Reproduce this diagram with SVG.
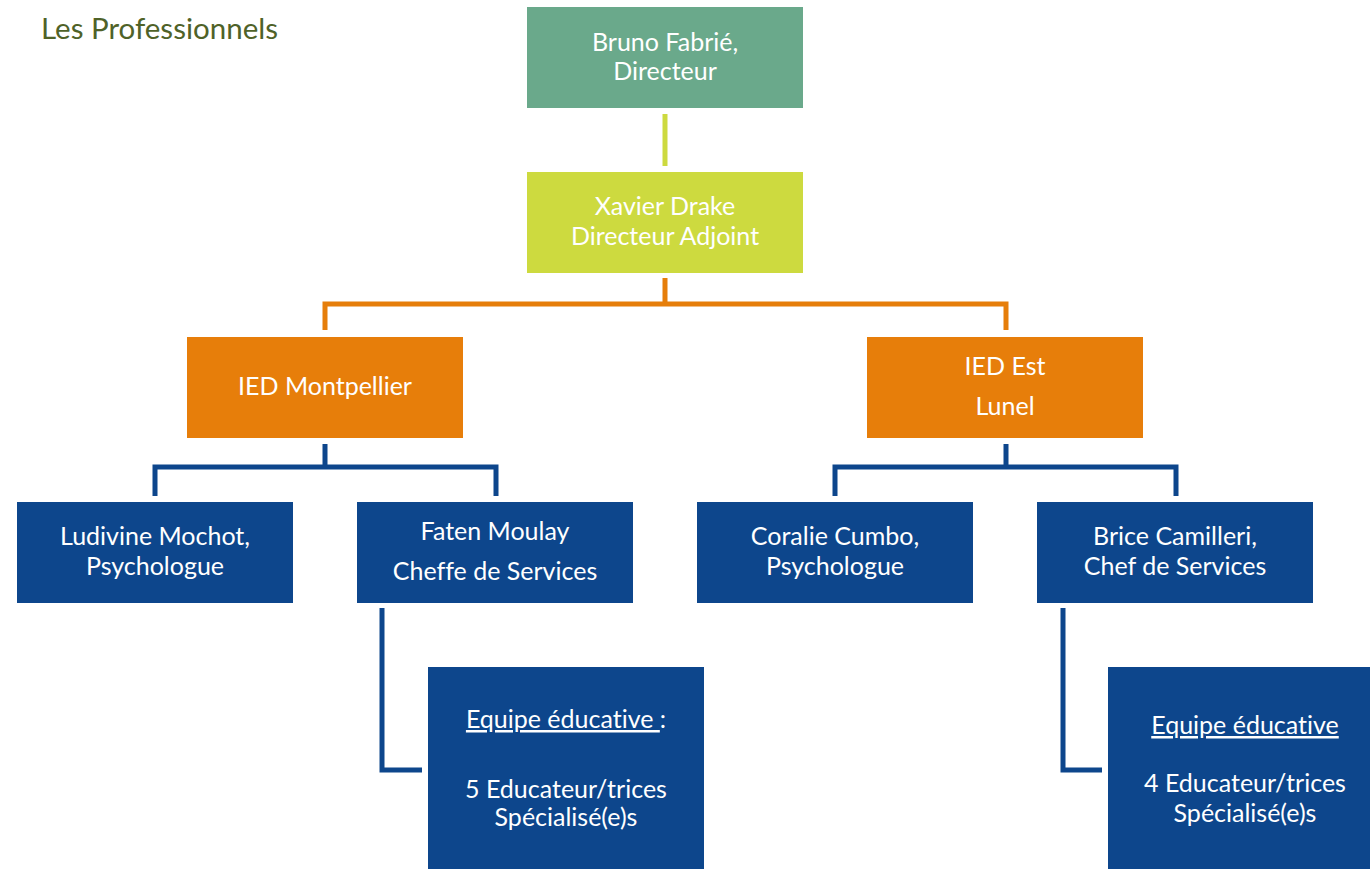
<svg xmlns="http://www.w3.org/2000/svg" width="1370" height="869" viewBox="0 0 1370 869">
<style>
text{font-family:Lato,"Open Sans","Liberation Sans",sans-serif;font-size:25px;fill:#fff;text-anchor:middle;font-variant-ligatures:none}
.title{fill:#4F6228;font-size:29.5px;text-anchor:start}
.c{fill:none;stroke-width:5;stroke-linejoin:miter;stroke-linecap:butt}
.g{fill:#6AA98B}.y{fill:#CDDA3F}.o{fill:#E77E0A}.b{fill:#0D468C}
.u{text-decoration:underline}
</style>
<rect width="1370" height="869" fill="#fff"/>
<text class="title" x="41" y="39">Les Professionnels</text>
<g id="connectors">
<path class="c" stroke="#CDDA3F" d="M665,114V166"/>
<path class="c" stroke="#E67E0A" d="M665,278V304M325,330V304H1006V330"/>
<path class="c" stroke="#0D468C" d="M325,444V467M155,496V467H496V496"/>
<path class="c" stroke="#0D468C" d="M1006,444V467M835,496V467H1176V496"/>
<path class="c" stroke="#0D468C" d="M382,608V770H422"/>
<path class="c" stroke="#0D468C" d="M1063,608V770H1102"/>
</g>
<g id="bruno"><rect class="g" x="527" y="7" width="276" height="101"/><text x="665" y="51">Bruno Fabrié,</text><text x="665" y="80">Directeur</text></g>
<g id="xavier"><rect class="y" x="527" y="172" width="276" height="101"/><text x="665" y="215">Xavier Drake</text><text x="665" y="245">Directeur Adjoint</text></g>
<g id="ied-montpellier"><rect class="o" x="187" y="337" width="276" height="101"/><text x="325" y="395">IED Montpellier</text></g>
<g id="ied-est"><rect class="o" x="867" y="337" width="276" height="101"/><text x="1005" y="375">IED Est</text><text x="1005" y="415">Lunel</text></g>
<g id="ludivine"><rect class="b" x="17" y="502" width="276" height="101"/><text x="155" y="545">Ludivine Mochot,</text><text x="155" y="575">Psychologue</text></g>
<g id="faten"><rect class="b" x="357" y="502" width="276" height="101"/><text x="495" y="540">Faten Moulay</text><text x="495" y="580">Cheffe de Services</text></g>
<g id="coralie"><rect class="b" x="697" y="502" width="276" height="101"/><text x="835" y="545">Coralie Cumbo,</text><text x="835" y="575">Psychologue</text></g>
<g id="brice"><rect class="b" x="1037" y="502" width="276" height="101"/><text x="1175" y="545">Brice Camilleri,</text><text x="1175" y="575">Chef de Services</text></g>
<g id="equipe-montpellier"><rect class="b" x="428" y="667" width="276" height="210"/><text x="566" y="728"><tspan class="u">Equipe éducative </tspan>:</text><text x="566" y="798">5 Educateur/trices</text><text x="566" y="826">Spécialisé(e)s</text></g>
<g id="equipe-est"><rect class="b" x="1108" y="667" width="276" height="210"/><text x="1245" y="734"><tspan class="u">Equipe éducative</tspan></text><text x="1245" y="792">4 Educateur/trices</text><text x="1245" y="822">Spécialisé(e)s</text></g>
</svg>
